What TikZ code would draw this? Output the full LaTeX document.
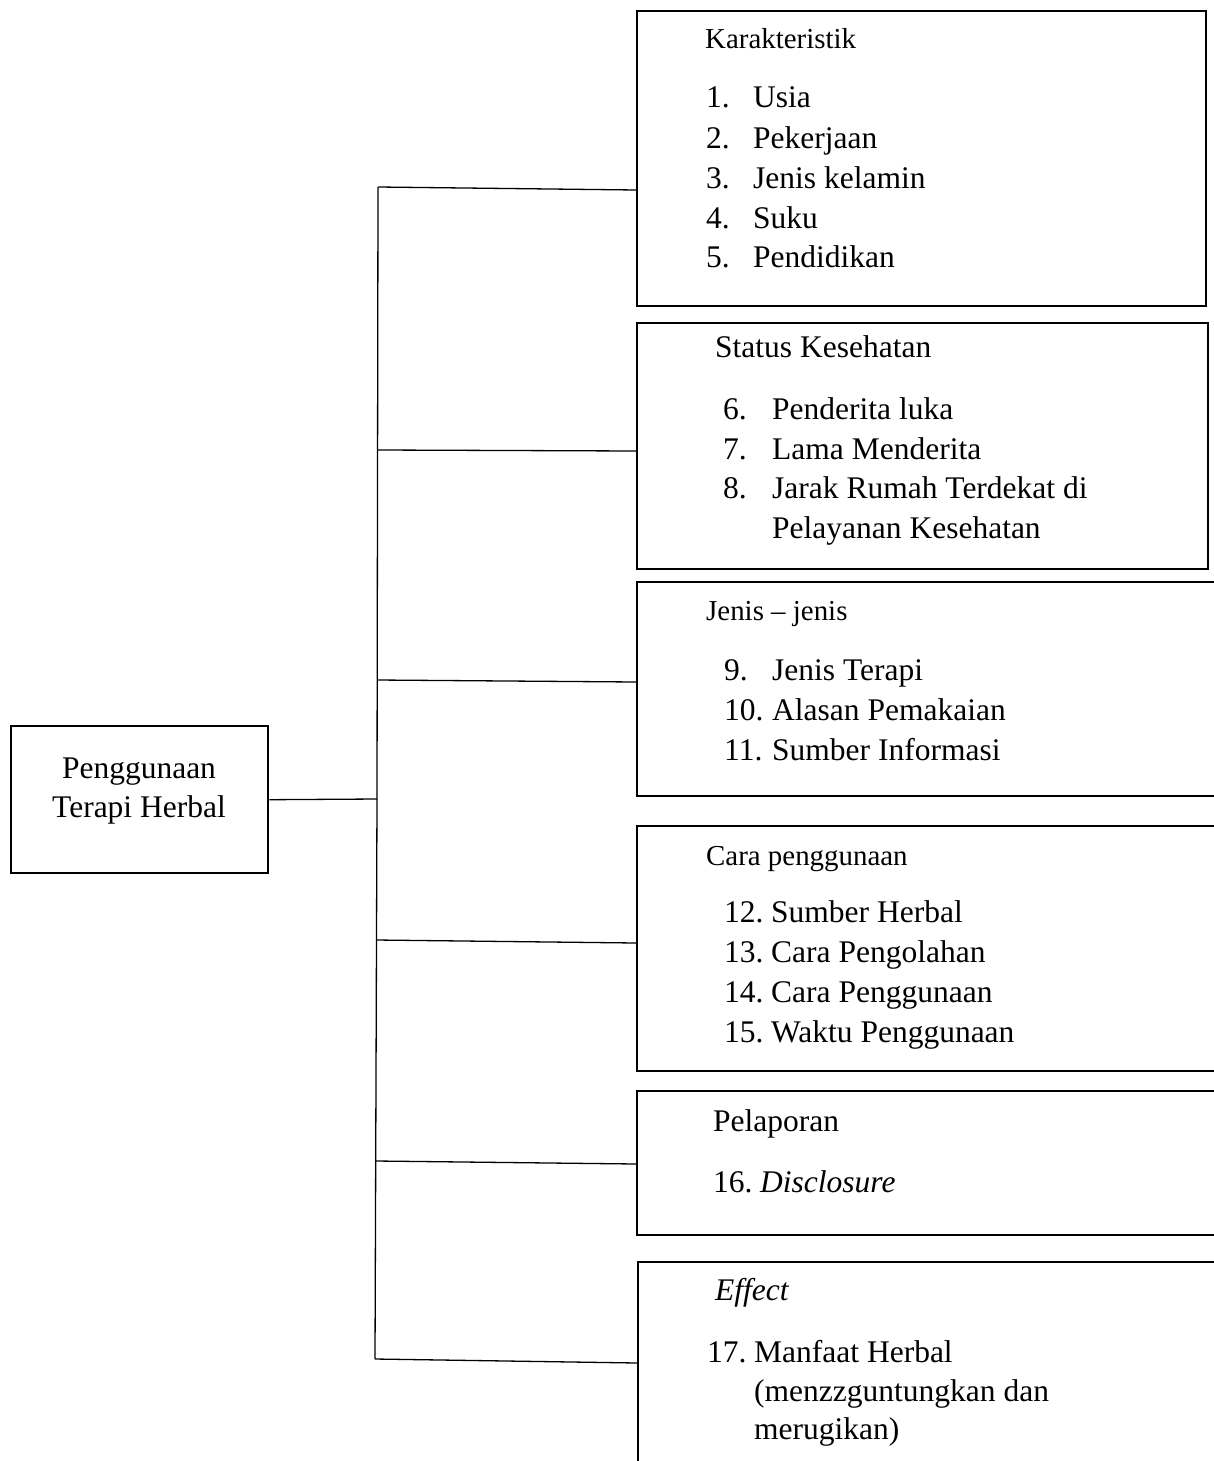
\documentclass[tikz,border=0pt]{standalone}
\usepackage{fontspec}
\setmainfont{Liberation Serif}
\begin{document}
\begin{tikzpicture}[x=1pt,y=-1pt,
  box/.style={draw, line width=2.4pt, inner sep=0pt, anchor=north west},
  conn/.style={line width=1.3pt},
  itm/.style={anchor=base west, inner sep=0pt, font=\fontsize{31.5}{36}\selectfont},
  hdr/.style={anchor=base west, inner sep=0pt, font=\fontsize{28.9}{34}\selectfont},
  ctr/.style={anchor=base, inner sep=0pt, font=\fontsize{31.5}{36}\selectfont}]
\useasboundingbox (0,0) rectangle (1213,1461);

% boxes
\node[box, minimum width=257pt, minimum height=147pt] (L) at (10,725) {};
\node[box, minimum width=569pt, minimum height=295pt] (b1) at (636,10) {};
\node[box, minimum width=571pt, minimum height=246pt] (b2) at (636,322) {};
\node[box, minimum width=600pt, minimum height=214pt] (b3) at (636,581) {};
\node[box, minimum width=600pt, minimum height=245pt] (b4) at (636,825) {};
\node[box, minimum width=600pt, minimum height=144pt] (b5) at (636,1090) {};
\node[box, minimum width=600pt, minimum height=240pt] (b6) at (637,1261) {};

% left box text
\node[ctr] (l1) at (139,778) {Penggunaan};
\node[ctr] (l2) at (139,817) {Terapi Herbal};

% connectors
\coordinate (tTop) at (378,187);
\coordinate (t2) at (378,450);
\coordinate (t3) at (377,680);
\coordinate (tMid) at (377,799);
\coordinate (t4) at (376,940);
\coordinate (t5) at (376,1161);
\coordinate (tBot) at (375,1359);
\coordinate (e1) at (636,190);
\coordinate (e2) at (636,451);
\coordinate (e3) at (636,682);
\coordinate (e4) at (636,943);
\coordinate (e5) at (636,1164);
\coordinate (e6) at (637,1363);
\draw[conn] (tTop) -- (tMid) -- (tBot);
\draw[conn] (L.east) -- (tMid);
\draw[conn] (tTop) -- (e1);
\draw[conn] (t2) -- (e2);
\draw[conn] (t3) -- (e3);
\draw[conn] (t4) -- (e4);
\draw[conn] (t5) -- (e5);
\draw[conn] (tBot) -- (e6);

% box 1
\node[hdr] (h1) at (705,49) {Karakteristik};
\node[itm] (n1) at (706,108) {1.};  \node[itm] (i1) at (753,108) {Usia};
\node[itm] (n2) at (706,148) {2.};  \node[itm] (i2) at (753,148) {Pekerjaan};
\node[itm] (n3) at (706,188) {3.};  \node[itm] (i3) at (753,188) {Jenis kelamin};
\node[itm] (n4) at (706,228) {4.};  \node[itm] (i4) at (753,228) {Suku};
\node[itm] (n5) at (706,267) {5.};  \node[itm] (i5) at (753,267) {Pendidikan};

% box 2
\node[itm] (h2) at (715,357) {Status Kesehatan};
\node[itm] (n6) at (723,419) {6.};  \node[itm] (i6) at (772,419) {Penderita luka};
\node[itm] (n7) at (723,459) {7.};  \node[itm] (i7) at (772,459) {Lama Menderita};
\node[itm] (n8) at (723,498) {8.};  \node[itm] (i8) at (772,498) {Jarak Rumah Terdekat di};
\node[itm] (i8b) at (772,538) {Pelayanan Kesehatan};

% box 3
\node[hdr] (h3) at (706,620) {Jenis -- jenis};
\node[itm] (n9) at (724,680) {9.};  \node[itm] (i9) at (772,680) {Jenis Terapi};
\node[itm] (n10) at (724,720) {10.}; \node[itm] (i10) at (772,720) {Alasan Pemakaian};
\node[itm] (n11) at (724,760) {11.}; \node[itm] (i11) at (772,760) {Sumber Informasi};

% box 4
\node[hdr] (h4) at (706,865) {Cara penggunaan};
\node[itm] (n12) at (724,922) {12.}; \node[itm] (i12) at (771,922) {Sumber Herbal};
\node[itm] (n13) at (724,962) {13.}; \node[itm] (i13) at (771,962) {Cara Pengolahan};
\node[itm] (n14) at (724,1002) {14.}; \node[itm] (i14) at (771,1002) {Cara Penggunaan};
\node[itm] (n15) at (724,1042) {15.}; \node[itm] (i15) at (771,1042) {Waktu Penggunaan};

% box 5
\node[itm] (h5) at (713,1131) {Pelaporan};
\node[itm] (n16) at (713,1192) {16.}; \node[itm] (i16) at (760,1192) {\itshape Disclosure};

% box 6
\node[itm] (h6) at (715,1300) {\itshape Effect};
\node[itm] (n17) at (707,1362) {17.}; \node[itm] (i17) at (754,1362) {Manfaat Herbal};
\node[itm] (i17b) at (754,1401) {(menzzguntungkan dan};
\node[itm] (i17c) at (754,1439) {merugikan)};
\end{tikzpicture}
\end{document}
